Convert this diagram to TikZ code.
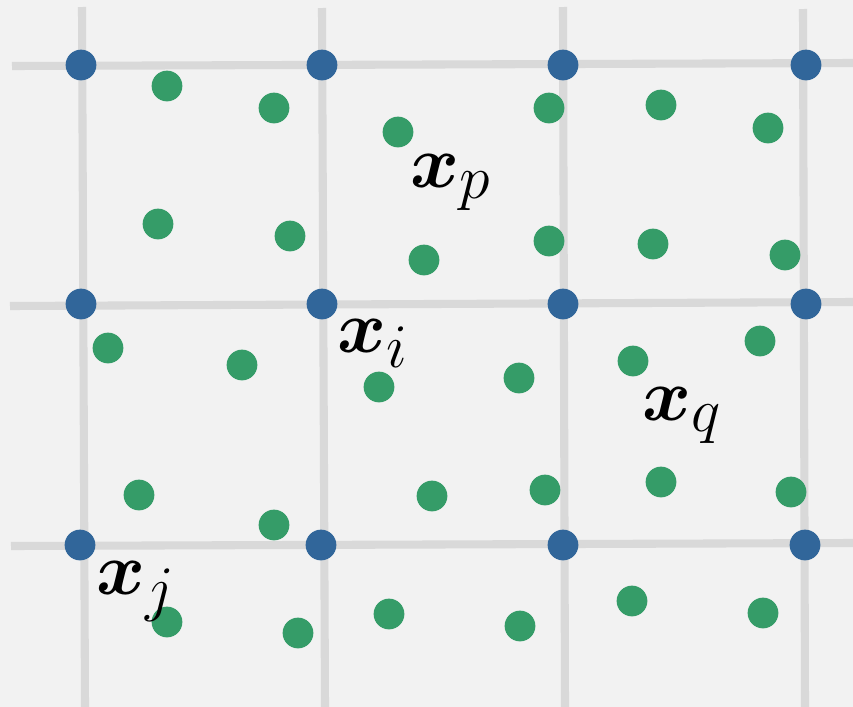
\documentclass[tikz,border=0pt]{standalone}
\usepackage{amsmath,bm}
\definecolor{bg}{HTML}{F2F2F2}
\definecolor{gridc}{HTML}{D9D9D9}
\definecolor{blued}{HTML}{31669A}
\definecolor{greend}{HTML}{359C68}
\tikzset{
  gline/.style={draw=gridc,line width=4.6pt},
  bdot/.style={circle,fill=blued,inner sep=0pt,minimum size=17.5pt},
  gdot/.style={circle,fill=greend,inner sep=0pt,minimum size=17.5pt},
  lab/.style={anchor=base west,inner sep=0pt,scale=1.7,font=\Huge}
}
\begin{document}
\begin{tikzpicture}[x=0.02cm,y=-0.02cm]
\fill[bg] (0,0) rectangle (853,707);
\useasboundingbox (0,0) rectangle (853,707);
% grid
\coordinate (v1t) at (82,7); \coordinate (v1b) at (85,707);
\coordinate (v2t) at (322,8); \coordinate (v2b) at (325,707);
\coordinate (v3t) at (563,7); \coordinate (v3b) at (565,707);
\coordinate (v4t) at (803,9); \coordinate (v4b) at (805,707);
\coordinate (h1l) at (12,66); \coordinate (h1r) at (853,63);
\coordinate (h2l) at (10,306); \coordinate (h2r) at (853,302);
\coordinate (h3l) at (11,546); \coordinate (h3r) at (853,543);
\foreach \a/\b in {v1t/v1b,v2t/v2b,v3t/v3b,v4t/v4b,h1l/h1r,h2l/h2r,h3l/h3r}
  \draw[gline] (\a) -- (\b);
% blue nodes
\foreach \n/\x/\y in {b11/81/65,b12/322/65,b13/563/65,b14/806/65,
  b21/81/304,b22/322/304,b23/563/304,b24/806/304,
  b31/80/545,b32/321/545,b33/563/545,b34/805/545}
  \node[bdot] (\n) at (\x,\y) {};
% green nodes
\foreach \n/\x/\y in {g1/167/86,g2/274/108,g3/398/132,g4/549/108,g5/661/105,g6/768/128,
  g7/158/224,g8/290/236,g9/424/260,g10/549/241,g11/653/244,g12/785/255,
  g13/108/348,g14/242/365,g15/379/387,g16/519/378,g17/633/361,g18/760/341,
  g19/139/495,g20/274/525,g21/432/496,g22/545/490,g23/661/482,g24/791/492,
  g25/167/622,g26/298/633,g27/389/614,g28/520/626,g29/632/601,g30/763/613}
  \node[gdot] (\n) at (\x,\y) {};
% labels
\node[lab] (xp) at (410,187) {$\bm{x}_p$};
\node[lab] (xi) at (337,352) {$\bm{x}_i$};
\node[lab] (xq) at (642,420) {$\bm{x}_q$};
\node[lab] (xj) at (96,594) {$\bm{x}_j$};
\end{tikzpicture}
\end{document}
